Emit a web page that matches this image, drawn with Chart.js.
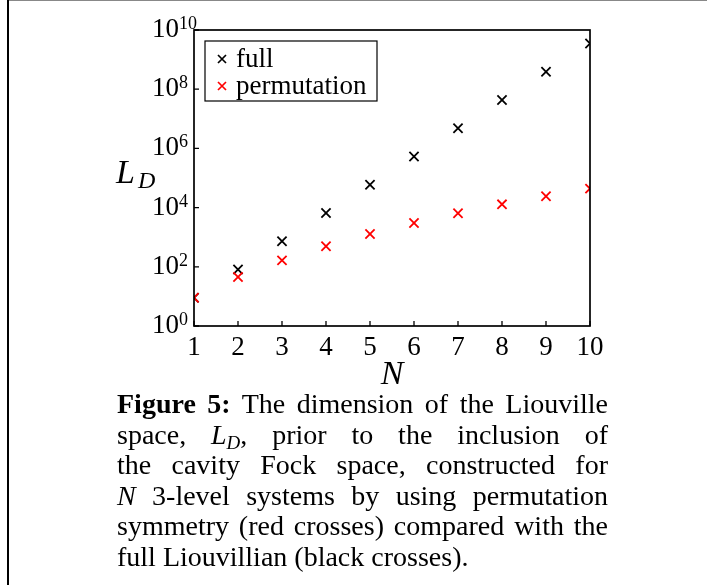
<!DOCTYPE html>
<html>
<head>
<meta charset="utf-8">
<script src="https://cdn.jsdelivr.net/npm/chart.js@4/dist/chart.umd.min.js"></script>
<style>
  html, body { margin: 0; padding: 0; background: #fff; }
  body { width: 707px; height: 585px; position: relative; overflow: hidden; }
  #frameTop { position: absolute; left: 8px; top: 0; width: 699px; height: 0; border-top: 1px solid #888; }
  #frameLeft { position: absolute; left: 7px; top: 0; width: 0; height: 585px; border-left: 2px solid #000; }
  #c { position: absolute; left: 0; top: 0; }
  #caption {
    position: absolute; left: 117px; top: 389px; width: 491px;
    font-family: "Liberation Serif", "Times New Roman", serif; font-size: 28px;
    line-height: 30.6px; color: #000;
  }
  #caption .l { text-align: justify; text-align-last: justify; white-space: nowrap; height: 30.6px; }
  #caption .last { text-align: left; text-align-last: left; }
  #caption sub { font-size: 19px; line-height: 0; vertical-align: baseline; position: relative; top: 5px; }
</style>
</head>
<body>
<div id="frameTop"></div>
<div id="frameLeft"></div>
<canvas id="c" width="707" height="390"></canvas>
<div id="caption">
  <div class="l"><b>Figure 5:</b> The dimension of the Liouville</div>
  <div class="l">space, <i>L<sub>D</sub></i>, prior to the inclusion of</div>
  <div class="l">the cavity Fock space, constructed for</div>
  <div class="l"><i>N</i> 3-level systems by using permutation</div>
  <div class="l">symmetry (red crosses) compared with the</div>
  <div class="l last">full Liouvillian (black crosses).</div>
</div>
<script>
const N = [1, 2, 3, 4, 5, 6, 7, 8, 9, 10];
const fullValues = [9, 81, 729, 6561, 59049, 531441, 4782969, 43046721, 387420489, 3486784401];
const permutationValues = [9, 45, 165, 495, 1287, 3003, 6435, 12870, 24310, 43758];
const xTickLabels = ['1','2','3','4','5','6','7','8','9','10'];
const yTickValues = [1, 1e2, 1e4, 1e6, 1e8, 1e10];
const yTickExponents = ['0','2','4','6','8','10'];
const seriesNames = ['full', 'permutation'];
const seriesColors = ['#000000', '#ff0000'];

const SERIF = '"Liberation Serif", "Times New Roman", serif';

function drawCross(ctx, x, y, r, color, lw) {
  ctx.save();
  ctx.strokeStyle = color; ctx.lineWidth = lw;
  ctx.beginPath();
  ctx.moveTo(x - r, y - r); ctx.lineTo(x + r, y + r);
  ctx.moveTo(x - r, y + r); ctx.lineTo(x + r, y - r);
  ctx.stroke();
  ctx.restore();
}

const decor = {
  id: 'decor',
  afterDraw(chart) {
    const ctx = chart.ctx;
    const a = chart.chartArea;
    const xs = chart.scales.x, ys = chart.scales.y;
    ctx.save();
    ctx.strokeStyle = '#000'; ctx.lineWidth = 1.7;
    ctx.strokeRect(a.left, a.top, a.right - a.left, a.bottom - a.top);
    ctx.lineWidth = 1.3;
    ctx.beginPath();
    N.forEach(v => { const px = xs.getPixelForValue(v); ctx.moveTo(px, a.bottom); ctx.lineTo(px, a.bottom - 5); });
    yTickValues.forEach(v => { const py = ys.getPixelForValue(v); ctx.moveTo(a.left, py); ctx.lineTo(a.left + 5, py); });
    ctx.stroke();
    ctx.fillStyle = '#000';
    ctx.font = '27px ' + SERIF;
    ctx.textAlign = 'center'; ctx.textBaseline = 'alphabetic';
    xTickLabels.forEach((t, i) => {
      ctx.fillText(t, xs.getPixelForValue(N[i]), a.bottom + 29);
    });
    yTickValues.forEach((v, i) => {
      const py = ys.getPixelForValue(v);
      ctx.font = '27px ' + SERIF;
      ctx.textAlign = 'left'; ctx.textBaseline = 'alphabetic';
      const baseX = 152;
      ctx.fillText('10', baseX, py + 7);
      const w = ctx.measureText('10').width;
      ctx.font = '18px ' + SERIF;
      ctx.fillText(yTickExponents[i], baseX + w, py - 1);
    });
    ctx.font = 'italic 34px ' + SERIF;
    ctx.textAlign = 'center';
    ctx.fillText('N', (a.left + a.right) / 2, a.bottom + 58);
    ctx.textAlign = 'left';
    ctx.fillText('L', 116, 183);
    ctx.font = 'italic 24px ' + SERIF;
    ctx.fillText('D', 138, 188);
    ctx.fillStyle = '#fff';
    ctx.fillRect(205, 41, 172, 60);
    ctx.strokeStyle = '#000'; ctx.lineWidth = 1.2;
    ctx.strokeRect(205, 41, 172, 60);
    ctx.font = '27px ' + SERIF;
    seriesNames.forEach((name, i) => {
      const cy = 59 + i * 27;
      drawCross(ctx, 222, cy, 4, seriesColors[i], 1.7);
      ctx.fillStyle = '#000';
      ctx.fillText(name, 236, cy + 8);
    });
    ctx.restore();
  }
};

new Chart(document.getElementById('c'), {
  type: 'scatter',
  data: {
    datasets: [
      {
        label: seriesNames[1],
        data: N.map((n, i) => ({ x: n, y: permutationValues[i] })),
        pointStyle: 'crossRot', pointRadius: 6.5, pointHoverRadius: 6.5,
        borderColor: seriesColors[1], backgroundColor: seriesColors[1], pointBorderWidth: 1.8,
        clip: 0
      },
      {
        label: seriesNames[0],
        data: N.map((n, i) => ({ x: n, y: fullValues[i] })),
        pointStyle: 'crossRot', pointRadius: 6.5, pointHoverRadius: 6.5,
        borderColor: seriesColors[0], backgroundColor: seriesColors[0], pointBorderWidth: 1.8,
        clip: 0
      }
    ]
  },
  options: {
    responsive: false,
    animation: false,
    devicePixelRatio: 1,
    layout: { padding: { left: 194, right: 117, top: 30, bottom: 64 } },
    plugins: { legend: { display: false }, tooltip: { enabled: false } },
    scales: {
      x: { type: 'linear', min: 1, max: 10, display: false },
      y: { type: 'logarithmic', min: 1, max: 1e10, display: false }
    }
  },
  plugins: [decor]
});
</script>
</body>
</html>
